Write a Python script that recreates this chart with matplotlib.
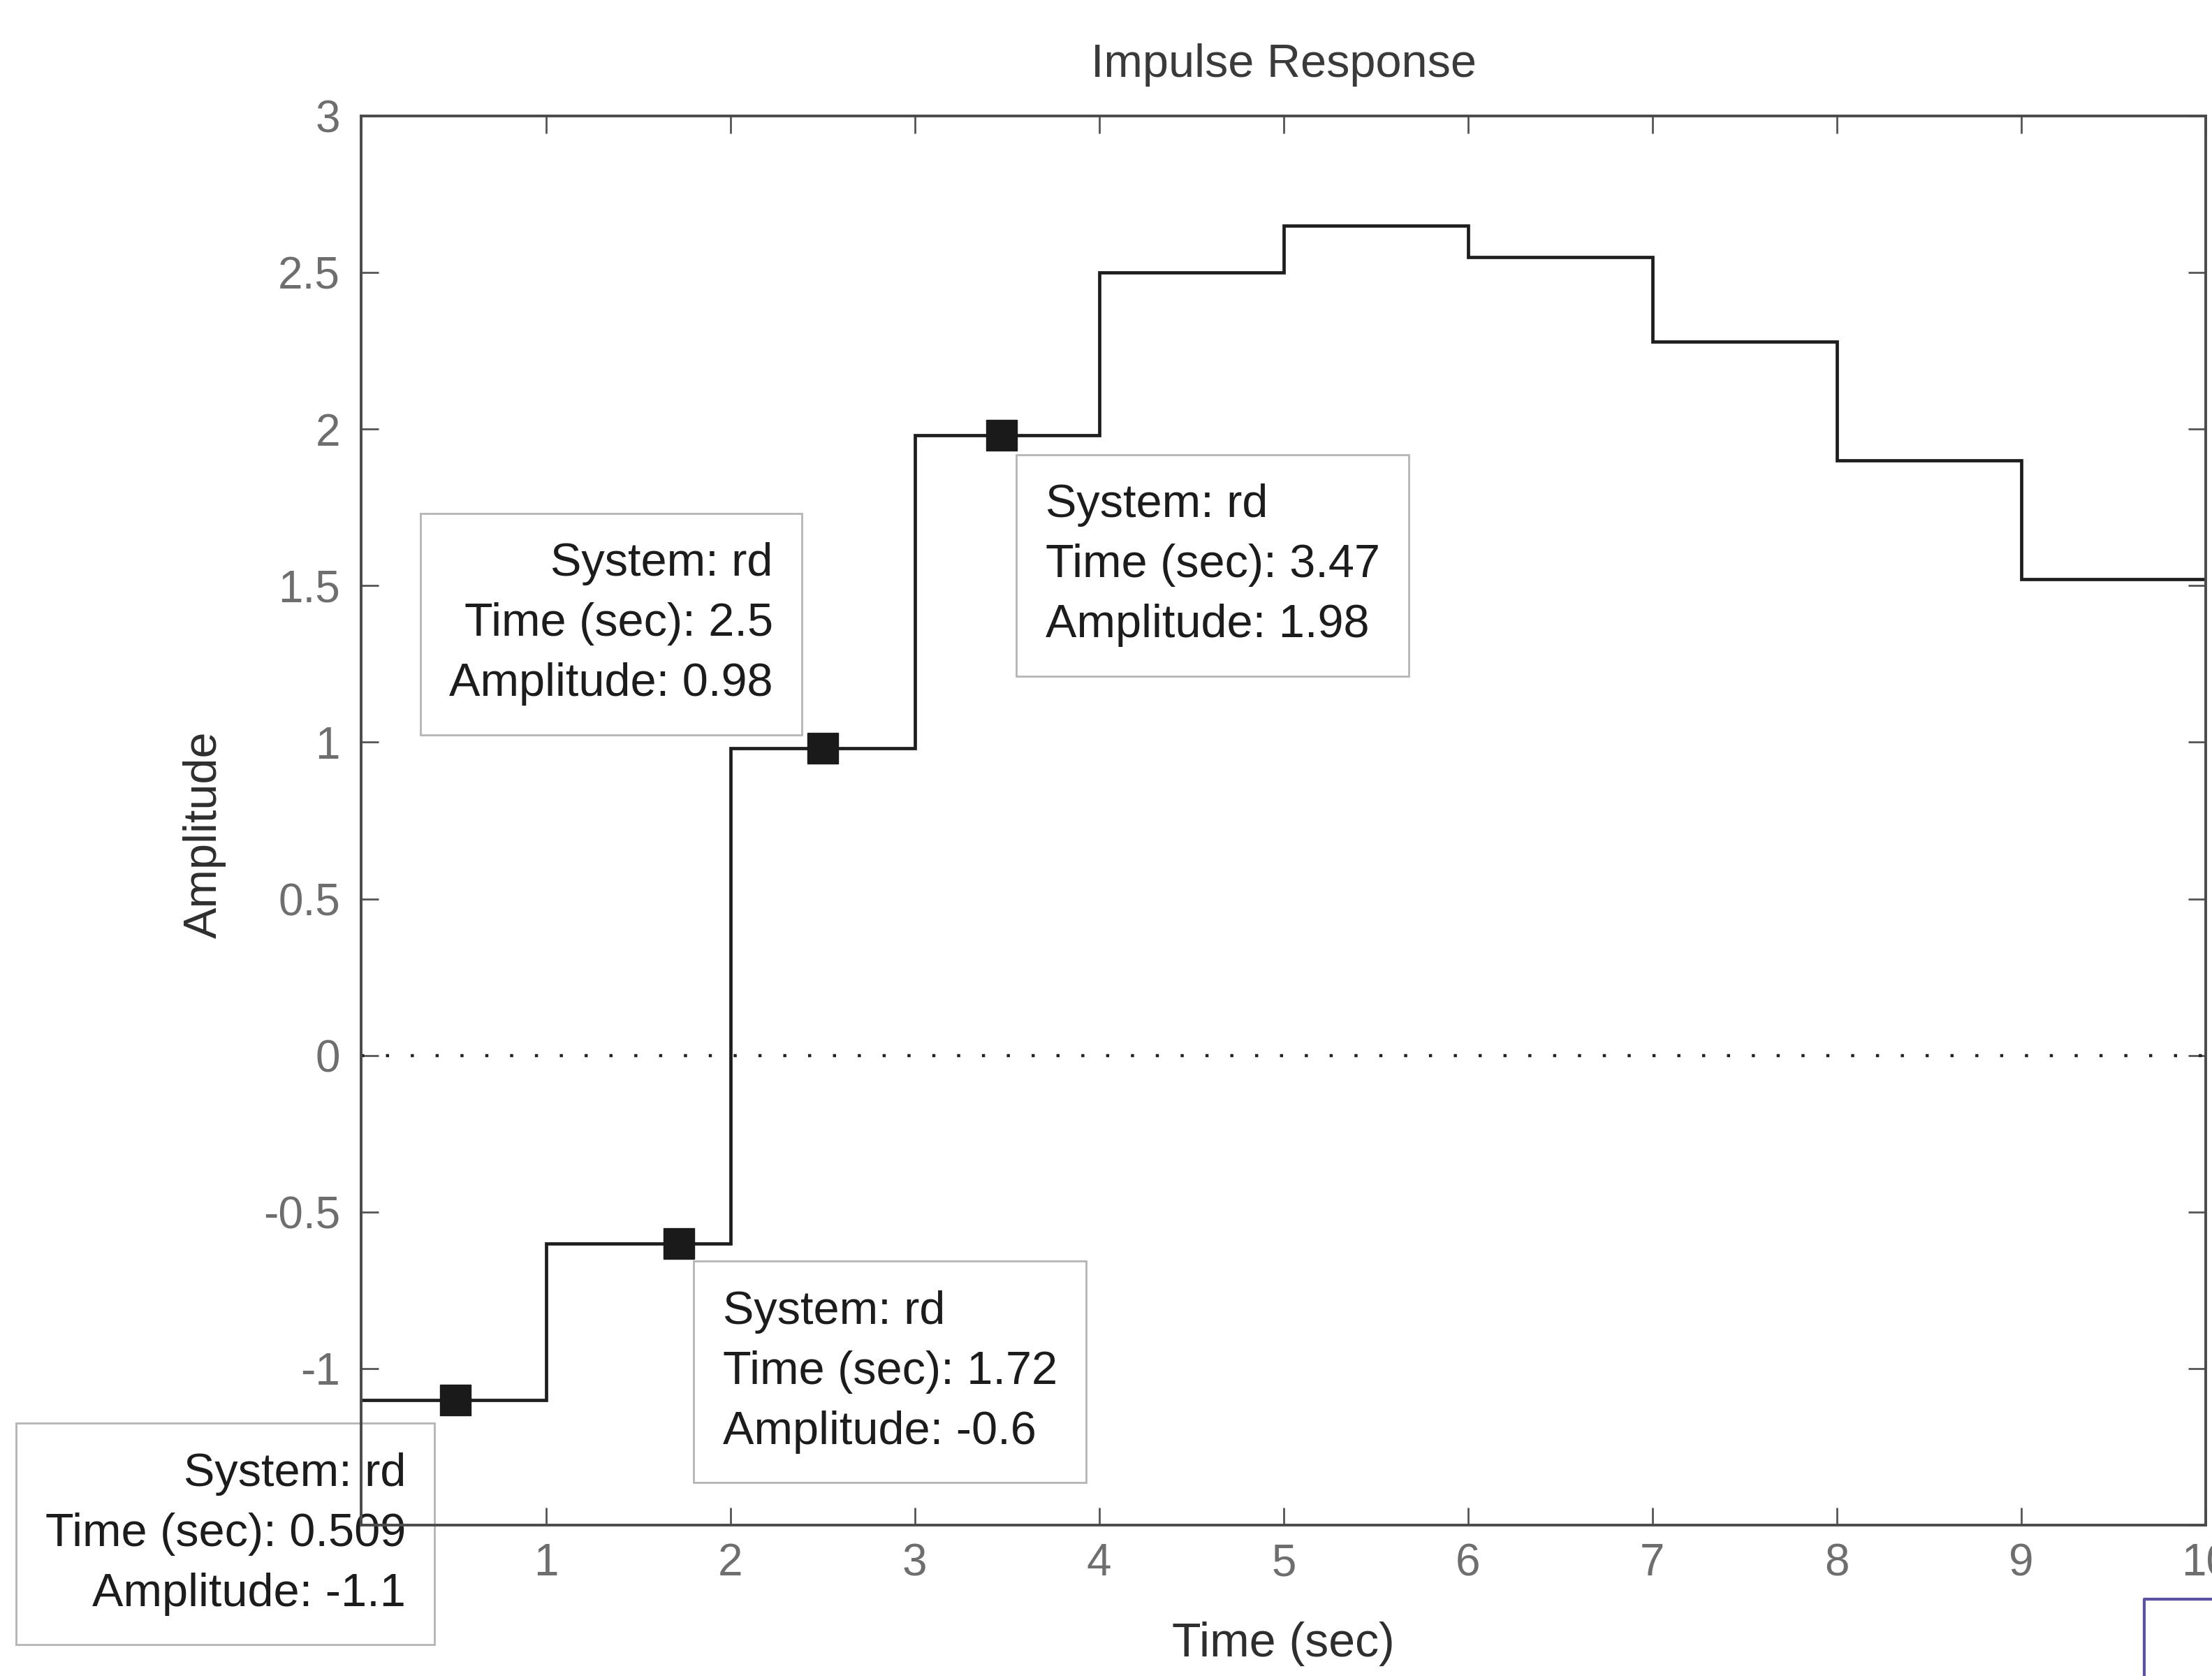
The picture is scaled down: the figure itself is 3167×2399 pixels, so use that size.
import numpy as np
import matplotlib
matplotlib.use('Agg')
import matplotlib.pyplot as plt
from matplotlib.lines import Line2D

plt.rcParams['font.family'] = ['Liberation Sans', 'DejaVu Sans']

# === data ===
t_edges = [0, 1, 2, 3, 4, 5, 6, 7, 8, 9, 10]
amp = [-1.1, -0.6, 0.98, 1.98, 2.5, 2.65, 2.55, 2.28, 1.9, 1.52]

tip_t = [0.509, 1.72, 2.5, 3.47]
tip_a = [-1.1, -0.6, 0.98, 1.98]
tip_txt = ["0.509", "1.72", "2.5", "3.47"]
tip_amp_txt = ["-1.1", "-0.6", "0.98", "1.98"]
# box corner offset from the marker (pixels) and text alignment
tip_off = [(-30, -34), (22, -26), (-30, 20), (22, -28)]
tip_ha = ['right', 'left', 'right', 'left']
tip_va = ['top', 'top', 'bottom', 'top']

xticks = list(range(0, 11))
# the 0 label sits under the first data tip box
xtick_lbl = [''] + [str(v) for v in range(1, 11)]
yticks = [-1.5, -1, -0.5, 0, 0.5, 1, 1.5, 2, 2.5, 3]
ytick_lbl = ['', '-1', '-0.5', '0', '0.5', '1', '1.5', '2', '2.5', '3']

# === figure ===
fig = plt.figure(figsize=(31.67, 23.99), dpi=100)
ax = fig.add_axes([0.1634, 0.090, 0.9972 - 0.1634, 0.9308 - 0.090])

ax.stairs(amp, t_edges, baseline=None, color='#1e1e1e', lw=3.4, zorder=3)
ax.axhline(0, color='#222222', lw=3.2, linestyle=(0, (1, 7)), zorder=2)
ax.plot(tip_t, tip_a, 's', color='#1a1a1a', ms=32, zorder=4)

ax.set_xlim(0, 10)
ax.set_ylim(-1.5, 3)
ax.set_xticks(xticks)
ax.set_xticklabels(xtick_lbl)
ax.set_yticks(yticks)
ax.set_yticklabels(ytick_lbl)
ax.tick_params(direction='in', length=18, width=2, colors='#555555',
               labelcolor='#6e6e6e', labelsize=46, top=True, right=True)
ax.tick_params(axis='x', pad=18)
ax.tick_params(axis='y', pad=22)

for s in ax.spines.values():
    s.set_color('#4a4a4a')
    s.set_linewidth(2.8)
    s.set_zorder(10)

ax.set_title('Impulse Response', fontsize=48, color='#3a3a3a', pad=40)
ax.set_xlabel('Time (sec)', fontsize=49, color='#2e2e2e', labelpad=38)
ax.set_ylabel('Amplitude', fontsize=48, color='#2e2e2e', labelpad=38)
ax.yaxis.label.set_y(0.49)

# data tips
pad_px = 41
for i in range(len(tip_t)):
    txt = f"System: rd\nTime (sec): {tip_txt[i]}\nAmplitude: {tip_amp_txt[i]}"
    dx, dy = tip_off[i]
    dx += pad_px if tip_ha[i] == 'left' else -pad_px
    dy += -pad_px if tip_va[i] == 'top' else pad_px
    ax.annotate(txt, xy=(tip_t[i], tip_a[i]), xytext=(dx, dy),
                textcoords='offset pixels', ha=tip_ha[i], va=tip_va[i],
                multialignment=tip_ha[i], fontsize=48, color='#1c1c1c',
                linespacing=1.5, zorder=6, annotation_clip=False,
                bbox=dict(boxstyle='square,pad=0.62', fc='white',
                          ec='#b4b4b4', lw=2))

# stray pen mark in the scan, bottom right corner
fig.add_artist(Line2D([0.9695, 0.9695, 1.0], [0.0, 0.046, 0.046],
                      transform=fig.transFigure, color='#5b52a0', lw=3))

fig.savefig('out.png', dpi=100)
